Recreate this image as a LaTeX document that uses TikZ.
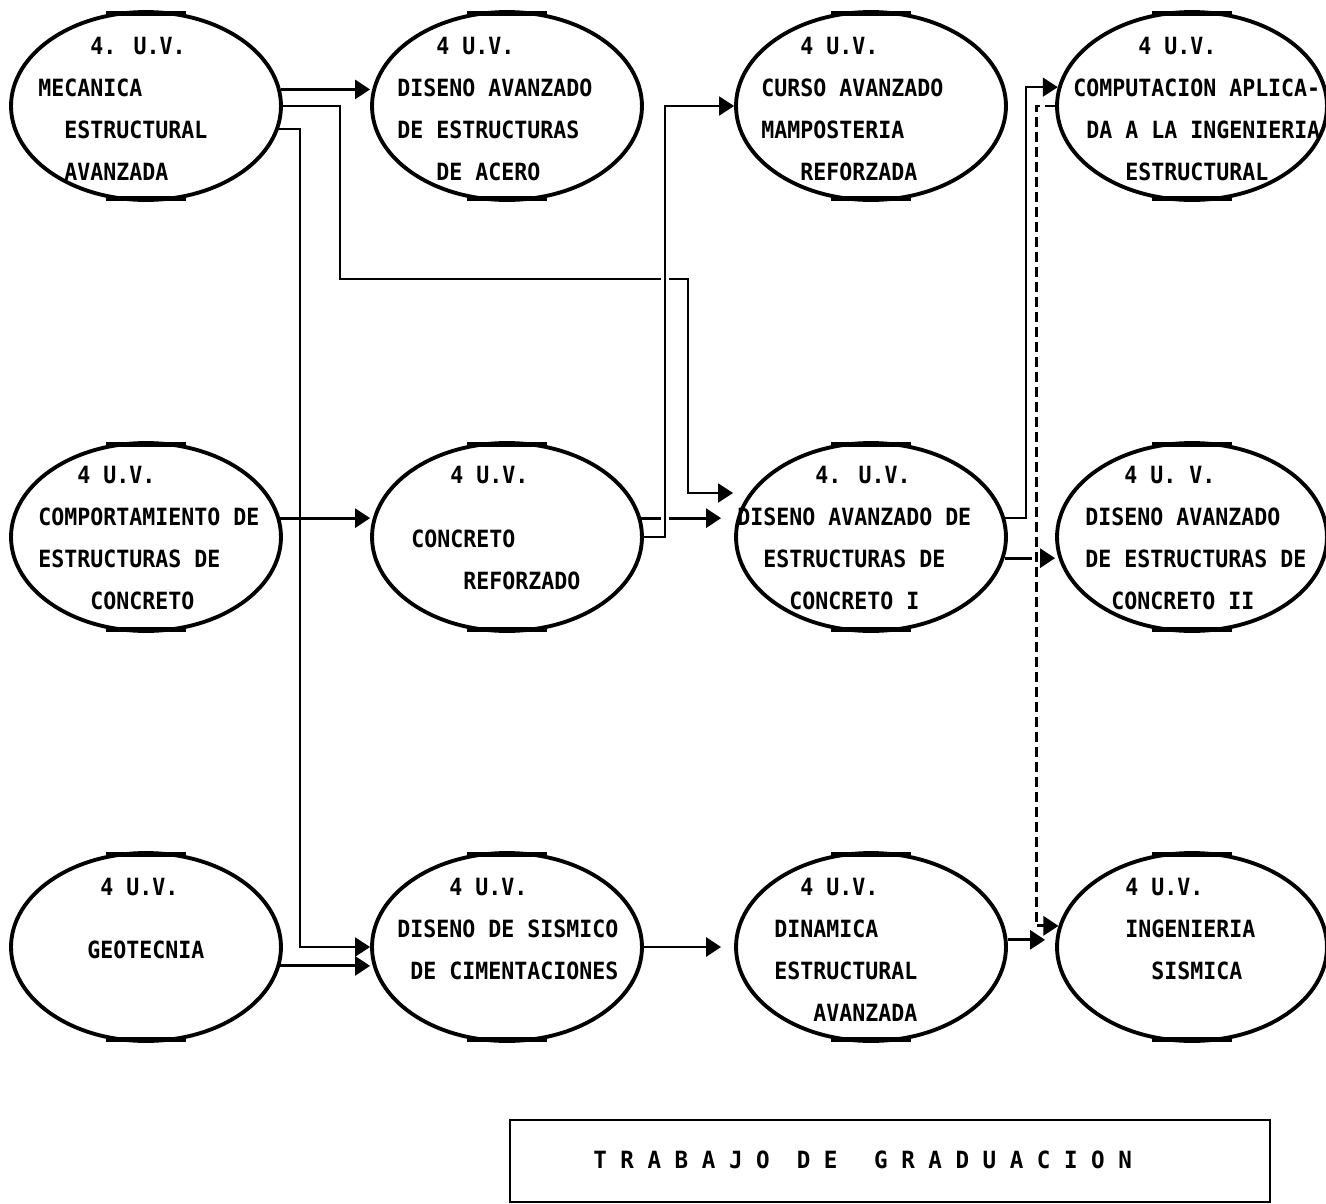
\documentclass[tikz,border=0pt]{standalone}
\usepackage{fontspec}
\usetikzlibrary{shapes,
	arrows.meta,
	calc,
	backgrounds}
\newfontfamily\plotfont{DejaVu Sans Mono}[FakeStretch=0.91]
\newfontfamily\boxfont{DejaVu Sans Mono}[FakeStretch=0.95]
\newcommand{\esp}[1]{\hspace*{#1\fontcharwd\font`M}}
\tikzstyle{curso}=[draw, ellipse, line width=2.2pt, minimum width=5.4cm, minimum height=3.76cm, inner sep=0,
	append after command={($(\tikzlastnode.north)+(-40,3.4)$) edge[draw, line width=2.6pt] ($(\tikzlastnode.north)+(40,3.4)$)
		($(\tikzlastnode.south)+(-40,-3.4)$) edge[draw, line width=2.6pt] ($(\tikzlastnode.south)+(40,-3.4)$)}]
\tikzstyle{txt}=[font={\plotfont\bfseries\fontsize{13.5}{23.9}\selectfont}, align=left, anchor=north west, inner sep=0]
\tikzstyle{flecha}=[-{Triangle[length=0.3cm,width=0.38cm]}, line width=1.6pt]
\tikzstyle{ruta}=[-{Triangle[length=0.3cm,width=0.38cm]}, line width=1.1pt]
\tikzstyle{puente}=[preaction={draw=white, line width=5pt, solid, -}]

\begin{document}
\begin{tikzpicture}[x=0.02cm, y=-0.02cm]
        \useasboundingbox (0,0) rectangle (1326,1204);

        \node[curso] (mec) at (146,106) {};
        \node[curso] (dea) at (507,106) {};
        \node[curso] (cam) at (871,106) {};
        \node[curso] (cap) at (1192,106) {};
        \node[curso] (com) at (146,537) {};
        \node[curso] (cre) at (507,537) {};
        \node[curso] (dci) at (871,537) {};
        \node[curso] (dcii) at (1192,537) {};
        \node[curso] (geo) at (146,947) {};
        \node[curso] (dsc) at (507,947) {};
        \node[curso] (din) at (871,947) {};
        \node[curso] (ing) at (1192,947) {};

        \node[txt] (mec-t) at (38,25.2) {\strut\esp{4}4. U.V.\\MECANICA\\\esp{2}ESTRUCTURAL\\\esp{2}AVANZADA};
        \node[txt] (dea-t) at (397,25.2) {\strut\esp{3}4 U.V.\\DISENO AVANZADO\\DE ESTRUCTURAS\\\esp{3}DE ACERO};
        \node[txt] (cam-t) at (761,25.2) {\strut\esp{3}4 U.V.\\CURSO AVANZADO\\MAMPOSTERIA\\\esp{3}REFORZADA};
        \node[txt] (cap-t) at (1073,25.2) {\strut\esp{5}4 U.V.\\COMPUTACION APLICA-\\\esp{1}DA A LA INGENIERIA\\\esp{4}ESTRUCTURAL};
        \node[txt] (com-t) at (38,454.2) {\strut\esp{3}4 U.V.\\COMPORTAMIENTO DE\\ESTRUCTURAS DE\\\esp{4}CONCRETO};
        \node[txt] (cre-t) at (411,454.2) {\strut\esp{3}4 U.V.\\[0.44cm]CONCRETO\\\esp{4}REFORZADO};
        \node[txt] (dci-t) at (737,454.2) {\strut\esp{6}4. U.V.\\DISENO AVANZADO DE\\\esp{2}ESTRUCTURAS DE\\\esp{4}CONCRETO I};
        \node[txt] (dcii-t) at (1085,454.2) {\strut\esp{3}4 U. V.\\DISENO AVANZADO\\DE ESTRUCTURAS DE\\\esp{2}CONCRETO II};
        \node[txt] (geo-t) at (87,866.2) {\strut\esp{1}4 U.V.\\[0.42cm]GEOTECNIA};
        \node[txt] (dsc-t) at (397,866.2) {\strut\esp{4}4 U.V.\\DISENO DE SISMICO\\\esp{1}DE CIMENTACIONES};
        \node[txt] (din-t) at (774,866.2) {\strut\esp{2}4 U.V.\\DINAMICA\\ESTRUCTURAL\\\esp{3}AVANZADA};
        \node[txt] (ing-t) at (1125,866.2) {\strut 4 U.V.\\INGENIERIA\\\esp{2}SISMICA};

        \node[draw, line width=1.5pt, minimum width=15.2cm, minimum height=1.64cm, inner sep=0] (trab) at (890,1161) {};
        \node[anchor=west, inner sep=0, font=\boxfont\bfseries\fontsize{13.5}{16}\selectfont] (trab-t) at (593,1160) {T R A B A J O\ \ D E\ \ \hspace{0.19cm}G R A D U A C I O N};

        \begin{scope}[on background layer]
        \draw[flecha] (mec.7.7) -- (mec.7.7 -| dea.west);
        \draw[ruta] (mec.east) -| (340,279) -| (688,493) -- ($(dci.west)+(-1,-44)$);
        \draw[ruta] (mec.-10.4) -| (300,947) -- (dsc.west);
        \draw[flecha] (com.8.6) -- (com.8.6 -| cre.west);
        \draw[flecha, shorten >=0.26cm] (cre.8.6) -- (cre.8.6 -| dci.west);
        \draw[ruta] (dci.8.6) -- ++(21,0) |- (cap.172.3);
        \draw[flecha] (dci.-9.5) -- (dci.-9.5 -| dcii.west);
        \draw[flecha] (geo.-8.6) -- (geo.-8.6 -| dsc.west);
        \draw[flecha, shorten >=0.26cm] (dsc.east) -- (din.west);
        \draw[flecha, shorten >=0.2cm] (din.3) -- (din.3 -| ing.west);
        \draw[ruta, puente] (cre.east) -- ++(21,0) |- (cam.west);
        \draw[ruta, puente, line width=1.6pt, dash pattern=on 0.2cm off 0.1cm] (cap.west) -- ++(-19,0) |- (ing.171.4);
        \end{scope}
    \end{tikzpicture}
\end{document}
